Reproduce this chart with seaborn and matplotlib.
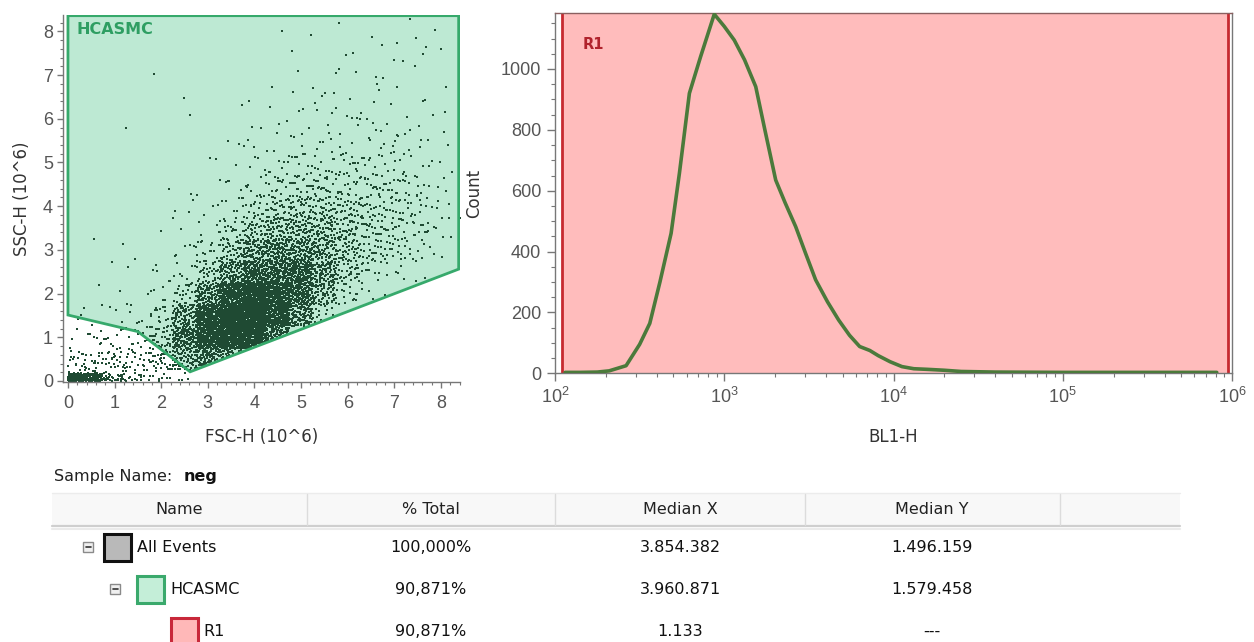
import numpy as np
import pandas as pd
import matplotlib
matplotlib.use("Agg")
import matplotlib.pyplot as plt
import seaborn as sns
from matplotlib.patches import Polygon, Rectangle
from matplotlib.ticker import MultipleLocator, LogLocator, NullFormatter

# ---------------- data ----------------
# FSC-H / SSC-H scatter: event counts per cell read from the density of the picture
fsc_edges = [0.0, 0.5, 1.0, 1.5, 2.0, 2.5, 3.0, 3.5, 4.0, 4.5, 5.0, 5.5, 6.0, 6.5, 7.0, 7.5, 8.0, 8.5]
ssc_edges = [0.0, 0.12, 0.5, 1.0, 1.5, 2.0, 2.5, 3.0, 3.5, 4.0, 4.5, 5.0, 5.5, 6.0, 6.5, 7.0, 7.5, 8.0, 8.5]
cell_counts = [
    [200, 40, 8, 4, 2, 0, 0, 0, 0, 0, 0, 0, 0, 0, 0, 0, 0],
    [25, 35, 18, 18, 12, 4, 1, 0, 0, 0, 0, 0, 0, 0, 0, 0, 0],
    [10, 15, 15, 30, 70, 200, 250, 150, 25, 0, 0, 0, 0, 0, 0, 0, 0],
    [3, 4, 4, 6, 40, 220, 550, 600, 380, 90, 5, 0, 0, 0, 0, 0, 0],
    [0, 3, 2, 5, 15, 70, 260, 480, 480, 280, 70, 6, 0, 0, 0, 0, 0],
    [0, 0, 1, 3, 6, 20, 80, 200, 300, 260, 140, 45, 10, 2, 0, 0, 0],
    [0, 0, 0, 1, 2, 8, 30, 90, 150, 170, 120, 60, 25, 15, 8, 3, 0],
    [0, 1, 2, 0, 2, 5, 12, 40, 80, 90, 80, 55, 30, 25, 18, 6, 3],
    [0, 0, 0, 0, 1, 3, 5, 15, 35, 50, 50, 40, 30, 20, 18, 8, 3],
    [0, 0, 0, 0, 1, 1, 3, 6, 15, 25, 30, 25, 20, 20, 14, 6, 2],
    [0, 0, 0, 1, 0, 0, 2, 3, 6, 10, 14, 12, 12, 12, 12, 5, 0],
    [0, 0, 0, 0, 0, 1, 2, 2, 4, 5, 6, 8, 7, 6, 5, 3, 0],
    [0, 0, 0, 1, 0, 1, 0, 2, 2, 3, 4, 5, 4, 4, 3, 4, 1],
    [0, 0, 0, 0, 0, 1, 1, 0, 2, 2, 3, 3, 3, 3, 2, 2, 0],
    [0, 0, 0, 1, 0, 0, 0, 0, 1, 0, 2, 2, 2, 2, 1, 0, 1],
    [0, 0, 0, 0, 0, 0, 0, 0, 0, 1, 1, 1, 2, 2, 1, 0, 0],
    [0, 0, 0, 0, 0, 0, 0, 0, 0, 0, 0, 1, 1, 1, 2, 2, 1],
    [0, 0, 0, 0, 0, 0, 0, 0, 0, 1, 2, 0, 1, 0, 2, 1, 0],
]

# HCASMC gate polygon
gate_x = [0.0, 8.38, 8.38, 2.62, 1.50, 0.0]
gate_y = [8.36, 8.36, 2.56, 0.21, 1.13, 1.51]

# BL1-H histogram (log10 of bin centre, count)
bl1_log = [2.06, 2.15, 2.25, 2.32, 2.42, 2.50, 2.56, 2.62, 2.686, 2.735, 2.794, 2.86, 2.941,
           3.00, 3.059, 3.12, 3.186, 3.24, 3.304, 3.36, 3.422, 3.48, 3.54, 3.61, 3.676, 3.74,
           3.80, 3.86, 3.91, 3.98, 4.05, 4.12, 4.20, 4.30, 4.40, 4.60, 5.00, 5.50, 5.91]
bl1_count = [3, 3, 4, 8, 25, 95, 164, 300, 460, 657, 920, 1040, 1180,
             1140, 1095, 1030, 942, 800, 635, 560, 482, 395, 307, 235, 175, 125,
             88, 75, 58, 38, 22, 15, 13, 10, 6, 4, 3, 3, 3]
r1_range = [110, 950000]

# statistics table
sample_name = "neg"
col_headers = ["Name", "% Total", "Median X", "Median Y"]
row_names = ["All Events", "HCASMC", "R1"]
row_pct = ["100,000%", "90,871%", "90,871%"]
row_median_x = ["3.854.382", "3.960.871", "1.133"]
row_median_y = ["1.496.159", "1.579.458", "---"]

# ---------------- style ----------------
sns.set_theme(style="ticks")
plt.rcParams['font.family'] = ['Liberation Sans', 'DejaVu Sans']
LBL = dict(family='DejaVu Sans')
tick_col = '#777777'
lab_col = '#555555'

W, H = 1254, 642
fig = plt.figure(figsize=(W / 100, H / 100), dpi=100)

tab = fig.add_axes([0, 0, 1, 1])
tab.set_xlim(0, W)
tab.set_ylim(H, 0)
tab.axis('off')


def box(l, t, r, b):
    return [l / W, 1 - b / H, (r - l) / W, (b - t) / H]


def halton(i, base):
    f, r = 1.0, 0.0
    while i > 0:
        f /= base
        r += f * (i % base)
        i //= base
    return r


# ---------------- scatter ----------------
ax1 = fig.add_axes(box(63.3, 14.8, 459.6, 382.3))
ax1.set_xlim(-0.1, 8.4)
ax1.set_ylim(-0.03, 8.38)

SPREAD = 2.0  # each cell's events are drawn over a footprint twice the cell size
px_list, py_list = [], []
lo_slope = (gate_y[2] - gate_y[3]) / (gate_x[2] - gate_x[3])
for i in range(len(ssc_edges) - 1):
    y0, y1 = ssc_edges[i], ssc_edges[i + 1]
    for j, n in enumerate(cell_counts[i]):
        x0, x1 = fsc_edges[j], fsc_edges[j + 1]
        cx, cy = (x0 + x1) / 2, (y0 + y1) / 2
        start = 1 + ((i * 17 + j) * 131) % 4093
        for k in range(start, start + n):
            u = halton(k, 2)
            v = halton(k, 3)
            px = abs(cx + (u - 0.5) * (x1 - x0) * SPREAD)
            py = abs(cy + (v - 0.5) * (y1 - y0) * SPREAD)
            if px > gate_x[3] and py < gate_y[3] + lo_slope * (px - gate_x[3]) + 0.03:
                continue
            px_list.append(px)
            py_list.append(py)
events = pd.DataFrame({"FSC-H": px_list, "SSC-H": py_list})

ax1.add_patch(Polygon(np.column_stack([gate_x, gate_y]), closed=True,
                      facecolor='#bde9d3', edgecolor='none', zorder=1))
sns.scatterplot(data=events, x="FSC-H", y="SSC-H", ax=ax1, s=2.1, marker='s',
                color='#1f4a33', linewidth=0, zorder=2, legend=False)
ax1.add_patch(Polygon(np.column_stack([gate_x, gate_y]), closed=True,
                      facecolor='none', edgecolor='#36a96b', linewidth=2.0, zorder=3))
ax1.text(0.19, 8.05, 'HCASMC', ha='left', va='center', fontsize=11.5,
         fontweight='bold', color='#2e9e62', zorder=4, **LBL)

ax1.xaxis.set_major_locator(MultipleLocator(1))
ax1.xaxis.set_minor_locator(MultipleLocator(0.2))
ax1.yaxis.set_major_locator(MultipleLocator(1))
ax1.yaxis.set_minor_locator(MultipleLocator(0.2))
for sp in ['top', 'right']:
    ax1.spines[sp].set_visible(False)
for sp in ['left', 'bottom']:
    ax1.spines[sp].set_color(tick_col)
    ax1.spines[sp].set_linewidth(1)
ax1.tick_params(which='major', direction='out', length=4.5, width=1, color=tick_col,
                labelsize=13, labelcolor=lab_col, pad=3)
ax1.tick_params(axis='x', which='major', pad=5)
ax1.tick_params(which='minor', direction='out', length=2.2, width=0.8, color=tick_col)
ax1.set_xlabel('FSC-H (10^6)', fontsize=12, color='#333333', **LBL)
ax1.set_ylabel('SSC-H (10^6)', fontsize=12, color='#333333', **LBL)
ax1.xaxis.set_label_coords(0.5, (382.3 - 437) / (382.3 - 14.8))
ax1.xaxis.label.set_va('center')
ax1.yaxis.set_label_coords((22 - 63.3) / (459.6 - 63.3), 0.5)
ax1.yaxis.label.set_va('center')

# ---------------- histogram ----------------
ax2 = fig.add_axes(box(555, 13, 1232, 373.3))
ax2.set_xscale('log')
ax2.set_xlim(100, 1e6)
ax2.set_ylim(0, 1184)
ax2.axvspan(r1_range[0], r1_range[1], color='#ffbcbc', zorder=0, linewidth=0)
for xv in r1_range:
    ax2.axvline(xv, color='#c62a30', linewidth=2.0, zorder=1)
hist_df = pd.DataFrame({"BL1-H": [10 ** v for v in bl1_log], "Count": bl1_count})
sns.lineplot(data=hist_df, x="BL1-H", y="Count", ax=ax2, color='#4b7a3b',
             linewidth=2.6, zorder=3)
ax2.text(146, 1079, 'R1', ha='left', va='center', fontsize=10.5,
         fontweight='bold', color='#b0222c', zorder=4, **LBL)

ax2.xaxis.set_major_locator(LogLocator(base=10, numticks=10))
ax2.xaxis.set_minor_locator(LogLocator(base=10, subs=np.arange(2, 10), numticks=10))
ax2.xaxis.set_minor_formatter(NullFormatter())
ax2.yaxis.set_major_locator(MultipleLocator(200))
ax2.yaxis.set_minor_locator(MultipleLocator(50))
for sp in ax2.spines.values():
    sp.set_color(tick_col)
    sp.set_linewidth(1)
ax2.spines['top'].set_color('#8a6060')
ax2.tick_params(which='major', direction='out', length=6, width=1, color=tick_col,
                labelsize=13, labelcolor=lab_col, pad=4)
ax2.tick_params(which='minor', direction='out', length=3, width=0.8, color=tick_col)
ax2.set_xlabel('BL1-H', fontsize=12, color='#333333', **LBL)
ax2.set_ylabel('Count', fontsize=12, color='#333333', **LBL)
ax2.xaxis.set_label_coords(0.5, (373.3 - 437) / (373.3 - 13))
ax2.xaxis.label.set_va('center')
ax2.yaxis.set_label_coords((474 - 555) / (1232 - 555), 0.5)
ax2.yaxis.label.set_va('center')

# ---------------- statistics table ----------------
TF = dict(family='DejaVu Sans', fontsize=11.5, va='center')
tab.text(54, 476, 'Sample Name:', ha='left', color='#222222', **TF)
tab.text(184, 476, sample_name, ha='left', fontweight='bold', color='#111111', **TF)

tab.add_patch(Rectangle((52, 493), 1128, 33, facecolor='#f8f8f8', edgecolor='none'))
tab.plot([52, 1180], [493, 493], color='#ececec', lw=1)
tab.plot([52, 1180], [526, 526], color='#cfcfcf', lw=1.6)
tab.plot([52, 1180], [528.5, 528.5], color='#ebebeb', lw=1.5)
for xs in [307, 555, 805, 1060]:
    tab.plot([xs, xs], [494, 525], color='#dcdcdc', lw=1)
col_centres = [179.5, 431, 680, 932]
for cx, hd in zip(col_centres, col_headers):
    tab.text(cx, 509, hd, ha='center', color='#222222', **TF)

row_y = [547, 589, 631]
minus_x = [88, 115, None]
square_x = [104, 137, 171]
square_fc = ['#b9b9b9', '#c4eed8', '#ffb8b8']
square_ec = ['#111111', '#3aa96c', '#c8283a']
text_x = [137, 170, 203]
for r in range(3):
    y = row_y[r]
    if minus_x[r] is not None:
        mx = minus_x[r]
        tab.add_patch(Rectangle((mx - 5, y - 5), 10, 10, facecolor='#f0f0f0',
                                edgecolor='#8a8a8a', lw=1))
        tab.plot([mx - 2.5, mx + 2.5], [y, y], color='#333333', lw=1.2)
    tab.add_patch(Rectangle((square_x[r], y - 13), 27, 27, facecolor=square_fc[r],
                            edgecolor=square_ec[r], lw=2.2))
    tab.text(text_x[r], y, row_names[r], ha='left', color='#111111', **TF)
    tab.text(col_centres[1], y, row_pct[r], ha='center', color='#111111', **TF)
    tab.text(col_centres[2], y, row_median_x[r], ha='center', color='#111111', **TF)
    tab.text(col_centres[3], y, row_median_y[r], ha='center', color='#111111', **TF)

fig.savefig('out.png', dpi=100)
